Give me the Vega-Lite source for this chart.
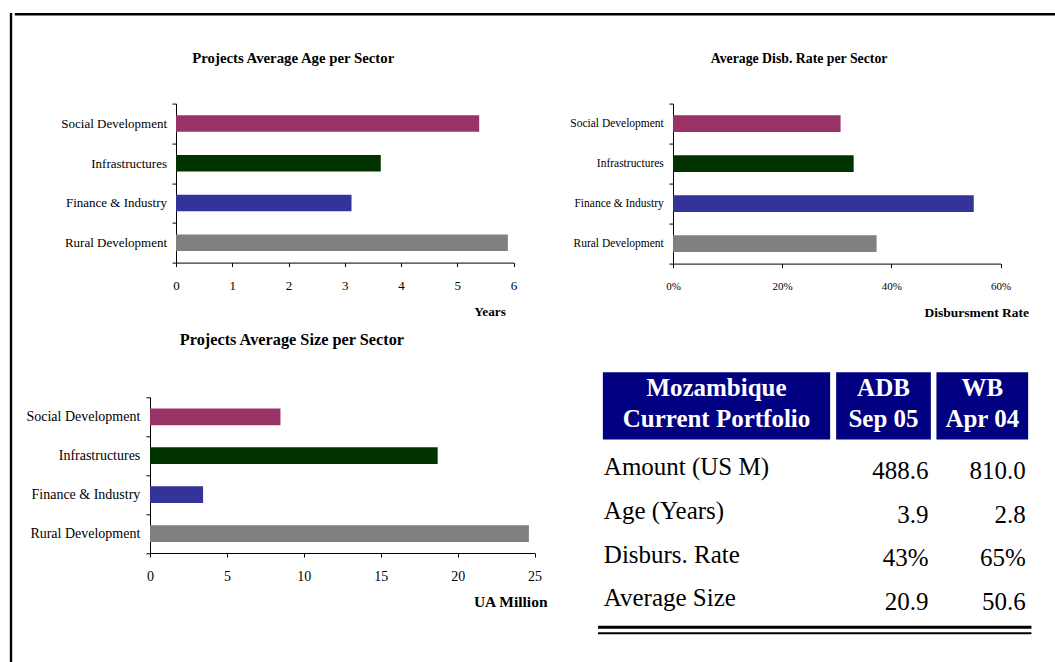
{
  "$schema": "https://vega.github.io/schema/vega-lite/v6.json",
  "padding": {"left": 9, "top": 12.3, "right": 0, "bottom": 0},
  "background": "white",
  "config": {
    "view": {"stroke": null},
    "font": "Liberation Serif",
    "axis": {"domainColor": "#000", "tickColor": "#000", "labelColor": "#000", "titleColor": "#000", "labelFont": "Liberation Serif", "titleFont": "Liberation Serif", "grid": false, "tickSize": 4, "domainWidth": 1, "tickWidth": 1, "titleFontWeight": "bold"},
    "title": {"font": "Liberation Serif", "fontWeight": "bold", "color": "#000"},
    "text": {"font": "Liberation Serif", "color": "#000"}
  },
  "datasets": {
    "sectors": [
      {"sector": "Social Development", "age": 5.39, "disb": 0.307, "size": 8.48},
      {"sector": "Infrastructures", "age": 3.64, "disb": 0.331, "size": 18.7},
      {"sector": "Finance & Industry", "age": 3.12, "disb": 0.551, "size": 3.45},
      {"sector": "Rural Development", "age": 5.9, "disb": 0.373, "size": 24.63}
    ],
    "headers": [
      {"column": "metric", "label": "Mozambique|Current Portfolio"},
      {"column": "ADB", "label": "ADB|Sep 05"},
      {"column": "WB", "label": "WB|Apr 04"}
    ],
    "portfolio": [
      {"metric": "Amount (US M)", "ADB": "488.6", "WB": "810.0"},
      {"metric": "Age (Years)", "ADB": "3.9", "WB": "2.8"},
      {"metric": "Disburs. Rate", "ADB": "43%", "WB": "65%"},
      {"metric": "Average Size", "ADB": "20.9", "WB": "50.6"}
    ],
    "rules": [{"line": "thick"}, {"line": "thin"}],
    "frame": [{"edge": "top"}, {"edge": "left"}]
  },
  "spacing": 0,
  "hconcat": [
    {
      "width": 1, "height": 700,
      "data": {"name": "frame"},
      "transform": [{"filter": "datum.edge == 'left'"}],
      "mark": {"type": "rule", "strokeWidth": 2.4, "color": "#000", "strokeCap": "square"},
      "encoding": {"x": {"datum": 0, "type": "quantitative", "scale": {"domain": [0, 1]}, "axis": null}}
    },
    {
      "spacing": 34.3,
      "vconcat": [
        {
          "width": 1045, "height": 1,
          "data": {"name": "frame"},
          "transform": [{"filter": "datum.edge == 'top'"}],
          "mark": {"type": "rule", "strokeWidth": 2.4, "color": "#000", "strokeCap": "square"},
          "encoding": {"y": {"datum": 1, "type": "quantitative", "scale": {"domain": [0, 1]}, "axis": null}}
        },
        {
          "columns": 3,
          "align": "none",
          "spacing": {"row": 12.7, "column": -4},
          "concat": [
            {"width": 1, "height": 1, "data": {"values": []}, "mark": "point"},
            {
              "width": 337.5, "height": 159,
              "title": {"text": "Projects Average Age per Sector", "fontSize": 14.8, "offset": 31.6, "dx": -51.5},
              "data": {"name": "sectors"},
              "mark": {"type": "bar", "height": {"band": 0.42}},
              "encoding": {
                "y": {"field": "sector", "type": "nominal", "sort": null,
                  "scale": {"domain": ["Social Development", "Infrastructures", "Finance & Industry", "Rural Development"], "paddingInner": 0, "paddingOuter": 0},
                  "axis": {"title": null, "tickBand": "extent", "labelFontSize": 13, "labelPadding": 5.5, "minExtent": 162.3, "maxExtent": 400}},
                "x": {"field": "age", "type": "quantitative", "scale": {"domain": [0, 6], "nice": false},
                  "axis": {"title": "Years", "values": [0, 1, 2, 3, 4, 5, 6], "labelFontSize": 13, "labelPadding": 13.2, "labelFlush": false, "titleFontSize": 13.2, "titleX": 329.3, "titleAlign": "right", "titlePadding": 13.2}},
                "color": {"field": "sector", "type": "nominal",
                  "scale": {"domain": ["Social Development", "Infrastructures", "Finance & Industry", "Rural Development"], "range": ["#993366", "#003300", "#333399", "#808080"]},
                  "legend": null}
              }
            },
            {
              "width": 327.5, "height": 160,
              "title": {"text": "Average Disb. Rate per Sector", "fontSize": 13.8, "offset": 31.8, "dx": -37.7},
              "data": {"name": "sectors"},
              "mark": {"type": "bar", "height": {"band": 0.416}},
              "encoding": {
                "y": {"field": "sector", "type": "nominal", "sort": null,
                  "scale": {"domain": ["Social Development", "Infrastructures", "Finance & Industry", "Rural Development"], "paddingInner": 0, "paddingOuter": 0},
                  "axis": {"title": null, "tickBand": "extent", "labelFontSize": 11.5, "labelPadding": 5.7}},
                "x": {"field": "disb", "type": "quantitative", "scale": {"domain": [0, 0.6], "nice": false},
                  "axis": {"title": "Disbursment Rate", "values": [0, 0.2, 0.4, 0.6], "format": ".0%", "labelFontSize": 11, "labelPadding": 13.2, "labelFlush": false, "titleFontSize": 13.5, "titleX": 355.5, "titleAlign": "right", "titlePadding": 13.9}},
                "color": {"field": "sector", "type": "nominal",
                  "scale": {"domain": ["Social Development", "Infrastructures", "Finance & Industry", "Rural Development"], "range": ["#993366", "#003300", "#333399", "#808080"]},
                  "legend": null}
              }
            },
            {"width": 1, "height": 1, "data": {"values": []}, "mark": "point"},
            {
              "width": 384.6, "height": 155.7,
              "title": {"text": "Projects Average Size per Sector", "fontSize": 16.3, "offset": 41.6, "dx": -50.4},
              "data": {"name": "sectors"},
              "mark": {"type": "bar", "height": {"band": 0.43}},
              "encoding": {
                "y": {"field": "sector", "type": "nominal", "sort": null,
                  "scale": {"domain": ["Social Development", "Infrastructures", "Finance & Industry", "Rural Development"], "paddingInner": 0, "paddingOuter": 0},
                  "axis": {"title": null, "tickBand": "extent", "labelFontSize": 14, "labelPadding": 6.2, "minExtent": 136.2, "maxExtent": 400}},
                "x": {"field": "size", "type": "quantitative", "scale": {"domain": [0, 25], "nice": false},
                  "axis": {"title": "UA Million", "values": [0, 5, 10, 15, 20, 25], "labelFontSize": 14, "labelPadding": 12.6, "labelFlush": false, "titleFontSize": 15.5, "titleX": 397, "titleAlign": "right", "titlePadding": 11.3}},
                "color": {"field": "sector", "type": "nominal",
                  "scale": {"domain": ["Social Development", "Infrastructures", "Finance & Industry", "Rural Development"], "range": ["#993366", "#003300", "#333399", "#808080"]},
                  "legend": null}
              }
            },
            {
              "spacing": 5,
              "center": true,
              "vconcat": [
                {"width": 544.1, "height": 34.8, "data": {"values": []}, "mark": "point"},
                {
                  "spacing": 5.3,
                  "hconcat": [
                    {
                      "width": 227.3, "height": 67.3,
                      "view": {"fill": "#000080", "stroke": null},
                      "data": {"name": "headers"},
                      "transform": [{"filter": "datum.column == 'metric'"}],
                      "mark": {"type": "text", "lineBreak": "|", "fontSize": 25, "fontWeight": "bold", "color": "white", "lineHeight": 30.7, "baseline": "middle", "align": "center", "dy": -17.8},
                      "encoding": {"text": {"field": "label"}}
                    },
                    {
                      "width": 94.7, "height": 67.3,
                      "view": {"fill": "#000080", "stroke": null},
                      "data": {"name": "headers"},
                      "transform": [{"filter": "datum.column == 'ADB'"}],
                      "mark": {"type": "text", "lineBreak": "|", "fontSize": 25, "fontWeight": "bold", "color": "white", "lineHeight": 30.7, "baseline": "middle", "align": "center", "dy": -17.8},
                      "encoding": {"text": {"field": "label"}}
                    },
                    {
                      "width": 91.7, "height": 67.3,
                      "view": {"fill": "#000080", "stroke": null},
                      "data": {"name": "headers"},
                      "transform": [{"filter": "datum.column == 'WB'"}],
                      "mark": {"type": "text", "lineBreak": "|", "fontSize": 25, "fontWeight": "bold", "color": "white", "lineHeight": 30.7, "baseline": "middle", "align": "center", "dy": -17.8},
                      "encoding": {"text": {"field": "label"}}
                    }
                  ]
                },
                {
                  "spacing": 5.3,
                  "hconcat": [
                    {
                      "width": 227.3, "height": 174.8,
                      "data": {"name": "portfolio"},
                      "mark": {"type": "text", "align": "left", "baseline": "middle", "fontSize": 25, "dx": 1},
                      "encoding": {
                        "y": {"field": "metric", "type": "nominal", "sort": null, "scale": {"paddingInner": 0, "paddingOuter": 0}, "axis": null},
                        "x": {"value": 0},
                        "text": {"field": "metric"}
                      }
                    },
                    {
                      "width": 94.7, "height": 174.8,
                      "data": {"name": "portfolio"},
                      "mark": {"type": "text", "align": "right", "baseline": "middle", "fontSize": 25, "dx": -2.4, "dy": 3.8},
                      "encoding": {
                        "y": {"field": "metric", "type": "nominal", "sort": null, "scale": {"paddingInner": 0, "paddingOuter": 0}, "axis": null},
                        "x": {"value": "width"},
                        "text": {"field": "ADB"}
                      }
                    },
                    {
                      "width": 91.7, "height": 174.8,
                      "data": {"name": "portfolio"},
                      "mark": {"type": "text", "align": "right", "baseline": "middle", "fontSize": 25, "dx": -2.4, "dy": 3.8},
                      "encoding": {
                        "y": {"field": "metric", "type": "nominal", "sort": null, "scale": {"paddingInner": 0, "paddingOuter": 0}, "axis": null},
                        "x": {"value": "width"},
                        "text": {"field": "WB"}
                      }
                    }
                  ]
                },
                {
                  "width": 433.4, "height": 5.9,
                  "data": {"name": "rules"},
                  "mark": {"type": "rule", "color": "#000"},
                  "encoding": {
                    "y": {"field": "line", "type": "nominal", "sort": null, "scale": {"type": "point", "padding": 0}, "axis": null},
                    "strokeWidth": {"field": "line", "type": "ordinal", "scale": {"domain": ["thick", "thin"], "range": [3, 2]}, "legend": null}
                  }
                }
              ]
            }
          ]
        }
      ]
    }
  ]
}
